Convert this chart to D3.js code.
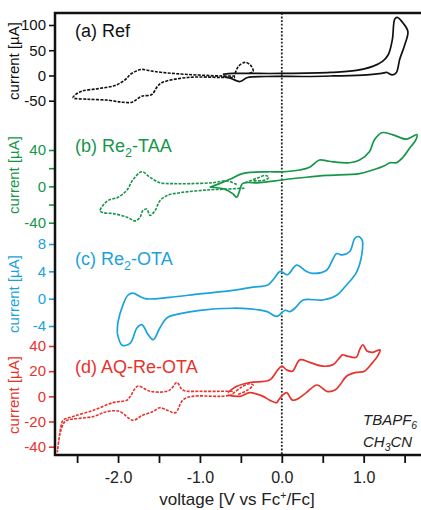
<!DOCTYPE html>
<html>
<head>
<meta charset="utf-8">
<script src="https://cdn.jsdelivr.net/npm/d3@7"></script>
<style>
  body { margin: 0; background: #fff; }
  svg { display: block; font-family: "Liberation Sans", Arial, sans-serif; }
</style>
</head>
<body>
<svg id="chart" width="421" height="510"></svg>
<script>
// voltage ticks [V vs Fc+/Fc]
const xTicks = [-2.5, -2, -1.5, -1, -0.5, 0, 0.5, 1, 1.5];

// current ticks [µA] for each panel, and which of them carry a label
const refTicks = [100, 50, 0, -50];
const taaTicks = [40, 20, 0, -20, -40];
const taaLabels = [40, 0, -40];
const otaTicks = [8, 4, 0, -4];
const aqTicks = [40, 20, 0, -20, -40];

// traces, [V, µA]
const refDashed = [[-0.57,-1],[-0.73,-1],[-1.15,2],[-1.46,6],[-1.60,9],[-1.70,12],[-1.76,10],[-1.85,2],[-1.91,-8],
  [-2.04,-20],[-2.24,-26],[-2.44,-31],[-2.52,-38],[-2.55,-44],[-2.37,-47],[-2.12,-49],[-1.95,-53],[-1.83,-53],
  [-1.77,-47],[-1.71,-41],[-1.59,-38],[-1.52,-22],[-1.46,-14],[-1.15,-4],[-0.73,-4],[-0.57,-4]];
const refDashedB = [[-0.57,4],[-0.53,18],[-0.45,26],[-0.38,20],[-0.35,8],[-0.40,4]];
const refSolid = [[-0.72,-2],[-0.62,-6],[-0.51,-12],[-0.42,-4],[-0.2,-2],[0.3,-2],[0.62,-1],[1.04,1],[1.22,4],
  [1.28,6],[1.35,1],[1.40,6],[1.44,32],[1.50,60],[1.54,87],[1.48,104],[1.41,115],[1.38,112],[1.35,71],[1.30,41],
  [1.23,28],[1.11,18],[0.91,10],[0.6,6],[0.0,4],[-0.4,4],[-0.6,4],[-0.72,2]];

const taaDashed = [[-0.55,2],[-0.67,6],[-0.84,4],[-1.12,3],[-1.33,3],[-1.49,4],[-1.61,10],[-1.71,16],[-1.82,7],
  [-1.89,-4],[-2.00,-12],[-2.13,-16],[-2.22,-27],[-2.18,-29],[-2.06,-30],[-1.89,-34],[-1.79,-38],[-1.73,-34],
  [-1.70,-27],[-1.65,-25],[-1.61,-32],[-1.55,-27],[-1.49,-16],[-1.40,-10],[-1.24,-7],[-0.91,-4],[-0.67,-3],[-0.45,-2]];
const taaDashedB = [[-0.45,4],[-0.3,9],[-0.2,12],[-0.16,10],[-0.2,7],[-0.35,6]];
const taaSolid = [[-0.88,-1],[-0.76,3],[-0.63,8],[-0.48,14],[-0.18,16],[0.0,16],[0.22,18],[0.34,21],[0.46,29],
  [0.55,28],[0.62,27],[0.83,26],[0.95,29],[1.07,38],[1.13,51],[1.22,59],[1.35,57],[1.52,52],[1.65,57],[1.63,50],
  [1.56,42],[1.48,32],[1.40,26],[1.32,26],[1.26,23],[1.11,18],[0.95,14],[0.55,12],[0.30,10],[0.0,7],[-0.27,4],
  [-0.48,3],[-0.52,-6],[-0.55,-12],[-0.60,-8],[-0.70,-3],[-0.88,-1]];

const otaSolid = [[-2.01,-5],[-2.0,-3.4],[-1.94,-0.9],[-1.88,0.5],[-1.82,0.8],[-1.67,0],[-1.37,0.2],[-1.0,0.7],
  [-0.60,1.2],[-0.35,1.7],[-0.17,2.0],[-0.09,3.0],[-0.02,4.0],[0.07,3.5],[0.18,4.9],[0.30,4.0],[0.38,3.7],
  [0.55,4.2],[0.62,5.7],[0.67,6.6],[0.74,6.4],[0.83,6.9],[0.89,8.8],[0.93,9.1],[0.98,8.6],[0.98,6.7],[0.91,3.8],
  [0.79,2.0],[0.67,0.5],[0.50,-0.2],[0.26,-0.2],[0.16,-1.4],[0.10,-1.9],[0.04,-1.7],[-0.06,-2.6],[-0.18,-1.9],
  [-0.39,-1.5],[-0.60,-1.4],[-1.0,-1.7],[-1.24,-2.2],[-1.40,-2.8],[-1.49,-4.3],[-1.57,-6.0],[-1.63,-5.3],
  [-1.71,-3.8],[-1.77,-4.3],[-1.85,-6.5],[-1.95,-6.8],[-2.01,-5]];

const aqDashed = [[-0.60,4],[-0.76,4],[-1.00,4],[-1.21,5],[-1.28,11],[-1.35,6],[-1.40,4],[-1.61,4],[-1.76,8],
  [-1.85,0],[-1.89,-3],[-2.06,-5],[-2.30,-11],[-2.55,-16],[-2.67,-19],[-2.70,-25],[-2.74,-44],[-2.71,-30],
  [-2.66,-21],[-2.62,-19],[-2.30,-16],[-2.13,-12],[-1.98,-12],[-1.82,-19],[-1.70,-15],[-1.57,-12],[-1.49,-9],
  [-1.40,-11],[-1.30,-13],[-1.21,-3],[-1.09,0],[-0.76,0],[-0.60,1]];
const aqDashedB = [[-0.60,2],[-0.50,7],[-0.40,10],[-0.35,9],[-0.42,5],[-0.55,1]];
const aqSolid = [[-0.66,3],[-0.55,8],[-0.39,11],[-0.15,13],[-0.05,21],[0.0,24],[0.06,21],[0.13,20],[0.22,29],[0.34,27],
  [0.50,24],[0.62,25],[0.71,31],[0.74,33],[0.80,32],[0.91,31],[0.95,37],[0.99,41],[1.04,36],[1.11,35],[1.20,37],
  [1.17,32],[1.11,27],[1.01,20],[0.91,19],[0.79,16],[0.71,9],[0.65,5],[0.55,4],[0.43,9],[0.30,3],[0.22,-1],
  [0.13,-3],[0.06,3],[0.01,1],[-0.05,-4],[-0.06,-5],[-0.15,-3],[-0.23,0],[-0.39,3],[-0.51,0],[-0.66,1]];

const W = 421, H = 510;
const plot = {left: 55, right: 421, top: 13, bottom: 455};

const panels = [
  {color: '#111', ticks: refTicks, labels: refTicks, domain: [-50, 100], range: [100.7, 25], labelY: 61, titleY: 37,
   title: [['(a) Ref']], traces: [[refDashed, true], [refDashedB, true], [refSolid, false]]},
  {color: '#16964a', ticks: taaTicks, labels: taaLabels, domain: [-40, 40], range: [222.7, 150], labelY: 175, titleY: 152,
   title: [['(b) Re'], ['2', 'sub'], ['-TAA']], traces: [[taaDashed, true], [taaDashedB, true], [taaSolid, false]]},
  {color: '#1ba2dc', ticks: otaTicks, labels: otaTicks, domain: [-4, 8], range: [326, 244], labelY: 294, titleY: 265,
   title: [['(c) Re'], ['2', 'sub'], ['-OTA']], traces: [[otaSolid, false]]},
  {color: '#e8322c', ticks: aqTicks, labels: aqTicks, domain: [-40, 40], range: [446.7, 346], labelY: 395, titleY: 373,
   title: [['(d) AQ-Re-OTA']], traces: [[aqDashed, true], [aqDashedB, true], [aqSolid, false]]}
];

const svg = d3.select('#chart');

const x = d3.scaleLinear().domain([-2.77, 1.70]).range([plot.left, plot.right]);

// zero line
svg.append('line')
  .attr('x1', x(0)).attr('x2', x(0))
  .attr('y1', plot.top).attr('y2', plot.bottom)
  .attr('stroke', '#222')
  .attr('stroke-width', 1.8)
  .attr('stroke-dasharray', '1.8,1.8');

const addText = (sel, parts, size) => {
  parts.forEach((p, i) => {
    const prev = i > 0 ? parts[i - 1][1] : null;
    const t = sel.append('tspan').text(p[0]);
    if (p[1] === 'sub') t.attr('font-size', size * 0.7).attr('dy', size * 0.25);
    else if (p[1] === 'sup') t.attr('font-size', size * 0.62).attr('dy', -size * 0.34);
    else if (prev === 'sub') t.attr('dy', -size * 0.25);
    else if (prev === 'sup') t.attr('dy', size * 0.34);
  });
};

panels.forEach(p => {
  const y = d3.scaleLinear().domain(p.domain).range(p.range);

  const line = d3.line()
    .x(d => x(d[0]))
    .y(d => y(d[1]))
    .curve(d3.curveCatmullRom.alpha(0.5));

  svg.append('g')
    .selectAll('path')
    .data(p.traces)
    .join('path')
      .attr('d', d => line(d[0]))
      .attr('fill', 'none')
      .attr('stroke', p.color)
      .attr('stroke-width', d => d[1] ? 1.6 : 1.7)
      .attr('stroke-dasharray', d => d[1] ? '3,1.3' : null)
      .attr('stroke-linejoin', 'round');

  const ax = svg.append('g')
    .attr('transform', `translate(${plot.left},0)`)
    .call(d3.axisLeft(y)
      .tickValues(p.ticks)
      .tickSize(6)
      .tickPadding(3)
      .tickFormat(d => p.labels.includes(d) ? String(d) : ''));
  ax.select('.domain').remove();
  ax.selectAll('line').attr('stroke', p.color).attr('stroke-width', 1.6);
  ax.selectAll('text')
    .attr('fill', p.color)
    .attr('font-size', 15)
    .attr('font-family', '"Liberation Sans", Arial, sans-serif');

  svg.append('text')
    .attr('transform', `translate(19,${p.labelY}) rotate(-90)`)
    .attr('text-anchor', 'middle')
    .attr('fill', p.color)
    .attr('font-size', 15)
    .text('current [µA]');

  const title = svg.append('text')
    .attr('x', 75)
    .attr('y', p.titleY)
    .attr('fill', p.color)
    .attr('font-size', 18);
  addText(title, p.title, 18);
});

// frame
svg.append('path')
  .attr('d', `M${plot.right},${plot.top}H${plot.left}V${plot.bottom}H${plot.right}`)
  .attr('fill', 'none')
  .attr('stroke', '#111')
  .attr('stroke-width', 2.5);

const xAxis = svg.append('g')
  .attr('transform', `translate(0,${plot.bottom})`)
  .call(d3.axisBottom(x)
    .tickValues(xTicks)
    .tickSize(8)
    .tickPadding(9)
    .tickFormat(d => Number.isInteger(d) ? d.toFixed(1) : ''));
xAxis.select('.domain').remove();
xAxis.selectAll('line').attr('stroke', '#111').attr('stroke-width', 1.8);
xAxis.selectAll('text')
  .attr('fill', '#222')
  .attr('font-size', 16)
  .attr('font-family', '"Liberation Sans", Arial, sans-serif');

const xLabel = svg.append('text')
  .attr('x', 237)
  .attr('y', 505)
  .attr('text-anchor', 'middle')
  .attr('fill', '#222')
  .attr('font-size', 17);
addText(xLabel, [['voltage [V vs Fc'], ['+', 'sup'], ['/Fc]']], 17);

const cond = svg.append('g')
  .attr('fill', '#222')
  .attr('font-size', 15)
  .attr('font-style', 'italic');
addText(cond.append('text').attr('x', 363).attr('y', 425), [['TBAPF'], ['6', 'sub']], 15);
addText(cond.append('text').attr('x', 363).attr('y', 447), [['CH'], ['3', 'sub'], ['CN']], 15);
</script>
</body>
</html>
